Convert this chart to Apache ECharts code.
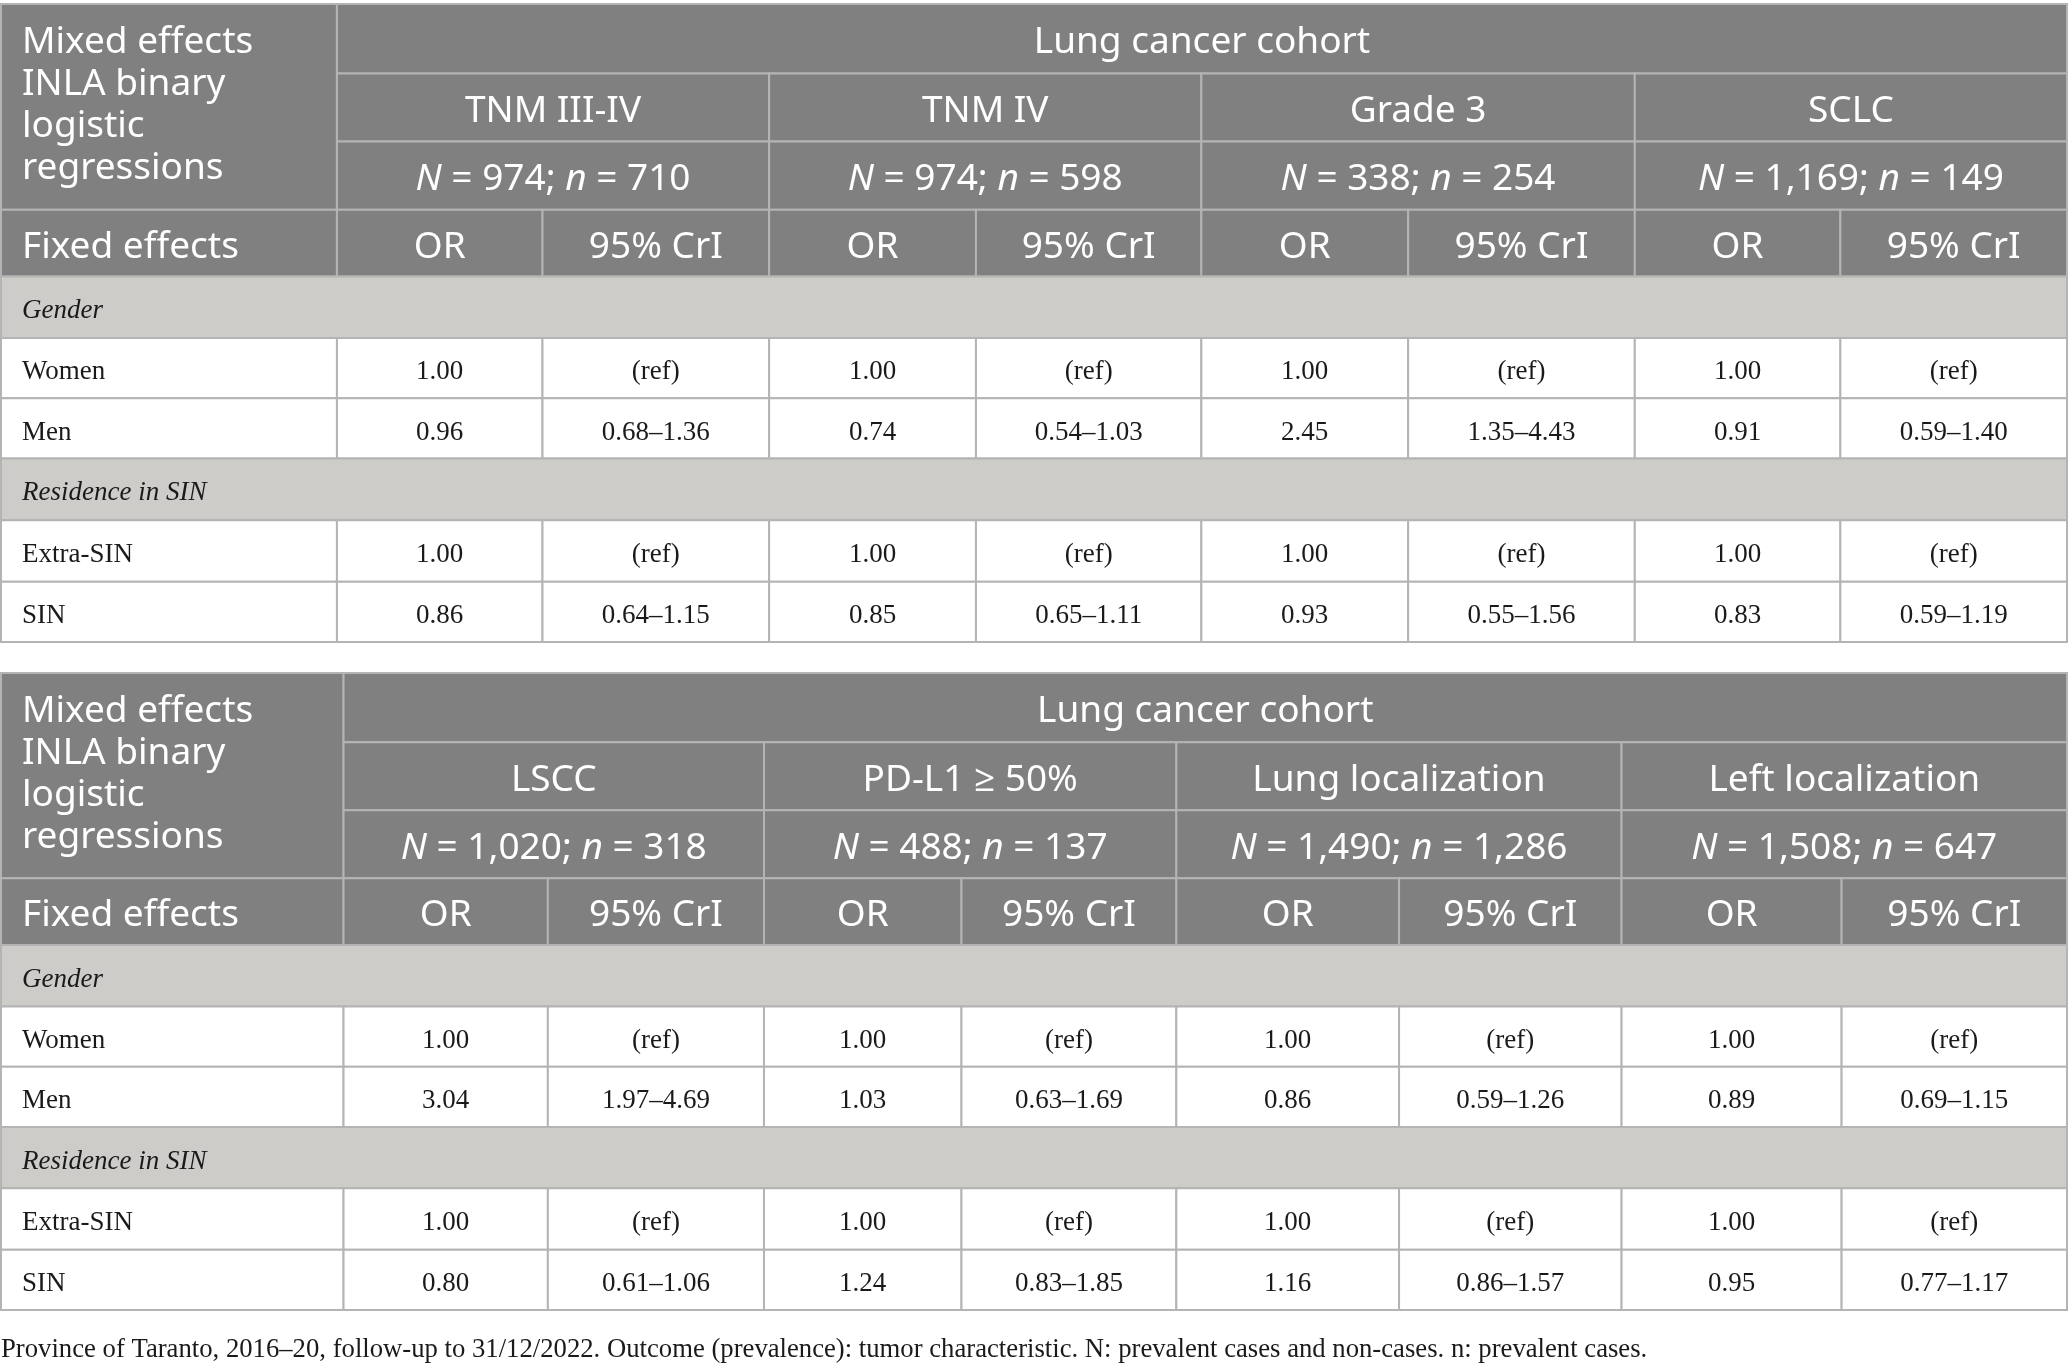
<!DOCTYPE html>
<html>
<head>
<meta charset="utf-8">
<script src="https://cdn.jsdelivr.net/npm/echarts@6/dist/echarts.min.js"></script>
<style>
  html, body { margin: 0; padding: 0; background: #fff; }
  #main { width: 2068px; height: 1370px; }
</style>
</head>
<body>
<div id="main"></div>
<script>
// ---- data ----
var outcomesTop = ['TNM III-IV', 'TNM IV', 'Grade 3', 'SCLC'];
var casesTop = ['974', '974', '338', '1,169'];        // N: prevalent cases and non-cases
var prevalentTop = ['710', '598', '254', '149'];      // n: prevalent cases
// per outcome: Women, Men, Extra-SIN, SIN
var orTop = [
    ['1.00', '0.96', '1.00', '0.86'],
    ['1.00', '0.74', '1.00', '0.85'],
    ['1.00', '2.45', '1.00', '0.93'],
    ['1.00', '0.91', '1.00', '0.83']
];
var ciTop = [
    ['(ref)', '0.68–1.36', '(ref)', '0.64–1.15'],
    ['(ref)', '0.54–1.03', '(ref)', '0.65–1.11'],
    ['(ref)', '1.35–4.43', '(ref)', '0.55–1.56'],
    ['(ref)', '0.59–1.40', '(ref)', '0.59–1.19']
];

var outcomesBottom = ['LSCC', 'PD-L1 ≥ 50%', 'Lung localization', 'Left localization'];
var casesBottom = ['1,020', '488', '1,490', '1,508'];
var prevalentBottom = ['318', '137', '1,286', '647'];
var orBottom = [
    ['1.00', '3.04', '1.00', '0.80'],
    ['1.00', '1.03', '1.00', '1.24'],
    ['1.00', '0.86', '1.00', '1.16'],
    ['1.00', '0.89', '1.00', '0.95']
];
var ciBottom = [
    ['(ref)', '1.97–4.69', '(ref)', '0.61–1.06'],
    ['(ref)', '0.63–1.69', '(ref)', '0.83–1.85'],
    ['(ref)', '0.59–1.26', '(ref)', '0.86–1.57'],
    ['(ref)', '0.69–1.15', '(ref)', '0.77–1.17']
];

var groups = ['Gender', 'Residence in SIN'];
var levels = [['Women', 'Men'], ['Extra-SIN', 'SIN']];

var footnote = 'Province of Taranto, 2016–20, follow-up to 31/12/2022. Outcome (prevalence): tumor characteristic. N: prevalent cases and non-cases. n: prevalent cases.';

// ---- layout (column edges in % of width, row edges in row units) ----
var colsTop = [0, 16.26, 26.21, 37.18, 47.19, 58.10, 68.11, 79.08, 89.03, 100];
var colsBottom = [0, 16.58, 26.47, 36.93, 46.49, 56.89, 67.67, 78.44, 89.09, 100];
var rowEdges = [0, 53, 105, 157, 208, 255, 301, 347, 394, 441, 487];

var SANS = '"Noto Sans", "Open Sans", sans-serif';
var SERIF = '"Liberation Serif", "DejaVu Serif", serif';
var HEAD_BG = '#808080', BAND_BG = '#cdccc9', LINE = '#b4b4b4';

function buildCells(outcomes, cases, prev, ors, cis, cols) {
    var cells = [];
    function add(c0, c1, r0, r1, text, kind) {
        cells.push({ x0: cols[c0], x1: cols[c1], y0: rowEdges[r0], y1: rowEdges[r1], text: text, kind: kind });
    }
    add(0, 1, 0, 3, 'Mixed effects\nINLA binary\nlogistic\nregressions', 'headLeft');
    add(1, 9, 0, 1, 'Lung cancer cohort', 'head');
    add(0, 1, 3, 4, 'Fixed effects', 'headLeft');
    for (var k = 0; k < outcomes.length; k++) {
        add(1 + 2 * k, 3 + 2 * k, 1, 2, outcomes[k], 'head');
        add(1 + 2 * k, 3 + 2 * k, 2, 3, '{i|N} = ' + cases[k] + '; {i|n} = ' + prev[k], 'head');
        add(1 + 2 * k, 2 + 2 * k, 3, 4, 'OR', 'head');
        add(2 + 2 * k, 3 + 2 * k, 3, 4, '95% CrI', 'head');
    }
    var r = 4, idx = 0;
    for (var g = 0; g < groups.length; g++) {
        add(0, 9, r, r + 1, groups[g], 'band');
        r++;
        for (var l = 0; l < levels[g].length; l++) {
            add(0, 1, r, r + 1, levels[g][l], 'bodyLeft');
            for (var o = 0; o < outcomes.length; o++) {
                add(1 + 2 * o, 2 + 2 * o, r, r + 1, ors[o][idx], 'body');
                add(2 + 2 * o, 3 + 2 * o, r, r + 1, cis[o][idx], 'body');
            }
            r++; idx++;
        }
    }
    return cells;
}

var tables = [
    buildCells(outcomesTop, casesTop, prevalentTop, orTop, ciTop, colsTop),
    buildCells(outcomesBottom, casesBottom, prevalentBottom, orBottom, ciBottom, colsBottom)
];

function makeRender(cells) {
    return function (params, api) {
        var c = cells[params.dataIndex];
        var p0 = api.coord([api.value(0), api.value(2)]);
        var p1 = api.coord([api.value(1), api.value(3)]);
        var x = p0[0], y = Math.min(p0[1], p1[1]);
        var w = p1[0] - p0[0], h = Math.abs(p1[1] - p0[1]);
        var head = c.kind === 'head' || c.kind === 'headLeft';
        var left = c.kind === 'headLeft' || c.kind === 'bodyLeft' || c.kind === 'band';
        var fill = head ? HEAD_BG : (c.kind === 'band' ? BAND_BG : '#ffffff');
        var fontSize = head ? 37 : 27;
        var family = head ? SANS : SERIF;
        var color = head ? '#ffffff' : '#1a1a1a';
        return {
            type: 'group',
            children: [{
                type: 'rect',
                shape: { x: x, y: y, width: w, height: h },
                style: { fill: fill, stroke: LINE, lineWidth: 2 }
            }, {
                type: 'text',
                x: left ? x + 21 : x + w / 2,
                y: y + h / 2 + (c.kind === 'headLeft' && h > 100 ? -1 : 4),
                style: {
                    text: c.text,
                    fill: color,
                    fontSize: fontSize,
                    fontFamily: family,
                    fontStyle: c.kind === 'band' ? 'italic' : 'normal',
                    lineHeight: 42,
                    align: left ? 'left' : 'center',
                    verticalAlign: 'middle',
                    rich: {
                        i: { fontStyle: 'italic', fontSize: fontSize, fontFamily: family, fill: color }
                    }
                }
            }]
        };
    };
}

var myChart = echarts.init(document.getElementById('main'), null, { renderer: 'canvas' });
myChart.setOption({
    animation: false,
    backgroundColor: '#ffffff',
    title: {
        text: footnote,
        left: 1,
        top: 1336,
        padding: 0,
        textStyle: { fontFamily: SERIF, fontSize: 26.7, fontWeight: 'normal', color: '#1a1a1a' }
    },
    grid: [
        { left: 1, right: 1, top: 4, height: 638 },
        { left: 1, right: 1, top: 673, height: 637 }
    ],
    xAxis: [0, 1].map(function (i) {
        return { type: 'value', gridIndex: i, min: 0, max: 100, show: false };
    }),
    yAxis: [0, 1].map(function (i) {
        return { type: 'value', gridIndex: i, min: 0, max: rowEdges[rowEdges.length - 1], inverse: true, show: false };
    }),
    series: tables.map(function (cells, i) {
        return {
            type: 'custom',
            xAxisIndex: i,
            yAxisIndex: i,
            clip: false,
            silent: true,
            renderItem: makeRender(cells),
            encode: { x: [0, 1], y: [2, 3] },
            data: cells.map(function (c) { return [c.x0, c.x1, c.y0, c.y1]; })
        };
    })
});
</script>
</body>
</html>
